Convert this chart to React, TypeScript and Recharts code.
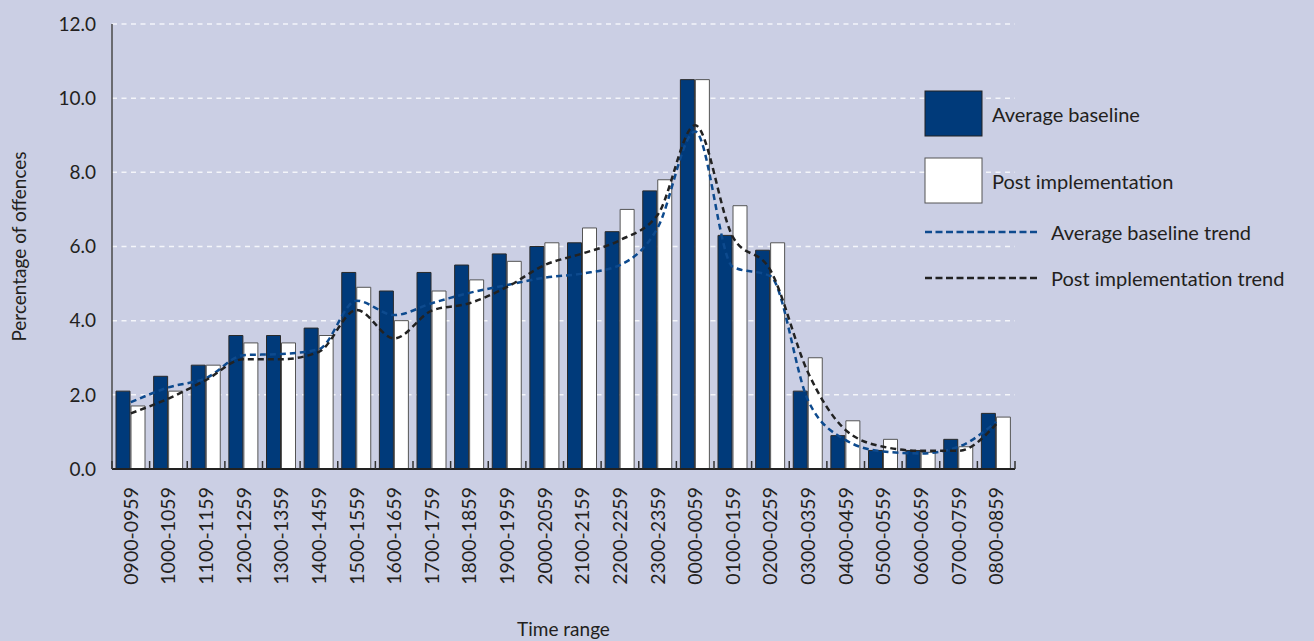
import { ComposedChart, Bar, Line, XAxis, YAxis, CartesianGrid } from 'recharts';

const timeRanges = [
  '0900-0959', '1000-1059', '1100-1159', '1200-1259', '1300-1359', '1400-1459',
  '1500-1559', '1600-1659', '1700-1759', '1800-1859', '1900-1959', '2000-2059',
  '2100-2159', '2200-2259', '2300-2359', '0000-0059', '0100-0159', '0200-0259',
  '0300-0359', '0400-0459', '0500-0559', '0600-0659', '0700-0759', '0800-0859',
];
const averageBaseline = [2.1, 2.5, 2.8, 3.6, 3.6, 3.8, 5.3, 4.8, 5.3, 5.5, 5.8, 6.0, 6.1, 6.4, 7.5, 10.5, 6.3, 5.9, 2.1, 0.9, 0.5, 0.5, 0.8, 1.5];
const postImplementation = [1.7, 2.1, 2.8, 3.4, 3.4, 3.6, 4.9, 4.0, 4.8, 5.1, 5.6, 6.1, 6.5, 7.0, 7.8, 10.5, 7.1, 6.1, 3.0, 1.3, 0.8, 0.45, 0.6, 1.4];
const baselineTrend = [1.8, 2.2, 2.45, 3.07, 3.1, 3.23, 4.54, 4.15, 4.47, 4.75, 4.96, 5.16, 5.27, 5.5, 6.5, 9.1, 5.45, 5.2, 1.85, 0.78, 0.47, 0.42, 0.6, 1.27];
const postTrend = [1.5, 1.9, 2.4, 2.96, 2.96, 3.16, 4.29, 3.52, 4.27, 4.47, 4.91, 5.5, 5.81, 6.17, 6.85, 9.27, 6.26, 5.36, 2.6, 1.05, 0.6, 0.49, 0.49, 1.21];
const yTicks = [0, 2, 4, 6, 8, 10, 12];

const data = timeRanges.map((range, i) => ({
  range,
  baseline: averageBaseline[i],
  post: postImplementation[i],
  baselineTrend: baselineTrend[i],
  postTrend: postTrend[i],
}));

const FONT = 'Lato, "Open Sans", sans-serif';
const TEXT = '#231f20';
const NAVY = '#003a7a';
const TREND_BLUE = '#0d4a8e';
const BG = '#cbcfe4';

const WIDTH = 1314;
const HEIGHT = 641;
const MARGIN = { top: 24, right: 299, left: 0, bottom: 0 };
const Y_AXIS_W = 112;
const X_AXIS_H = 172;
const catWidth = (WIDTH - MARGIN.left - MARGIN.right - Y_AXIS_W) / timeRanges.length;

const TimeTick = (props: any) => {
  const { x, y, payload, index } = props;
  const half = catWidth / 2;
  return (
    <g>
      <line x1={x - half} x2={x - half} y1={y - 8} y2={y} stroke="#333" strokeWidth={1.5} />
      {index === timeRanges.length - 1 && (
        <line x1={x + half} x2={x + half} y1={y - 8} y2={y} stroke="#333" strokeWidth={1.5} />
      )}
      <text
        x={x}
        y={y + 18}
        transform={`rotate(-90, ${x}, ${y + 18})`}
        textAnchor="end"
        dy="0.36em"
        fill={TEXT}
        fontSize={19.5}
        fontFamily={FONT}
      >
        {payload.value}
      </text>
    </g>
  );
};

const ChartLegend = () => (
  <svg width={394} height={215} style={{ position: 'absolute', left: 920, top: 85 }}>
    <rect x={5} y={6} width={57} height={45} fill={NAVY} stroke="#222" strokeWidth={1} />
    <text x={72} y={29} dominantBaseline="central" fontSize={20} fontFamily={FONT} fill={TEXT}>Average baseline</text>
    <rect x={5} y={73} width={57} height={45} fill="#ffffff" stroke="#555" strokeWidth={1} />
    <text x={72} y={96} dominantBaseline="central" fontSize={20} fontFamily={FONT} fill={TEXT}>Post implementation</text>
    <line x1={5} x2={119} y1={147} y2={147} stroke={TREND_BLUE} strokeWidth={2.5} strokeDasharray="7 3.5" />
    <text x={131} y={147} dominantBaseline="central" fontSize={20} fontFamily={FONT} fill={TEXT}>Average baseline trend</text>
    <line x1={5} x2={119} y1={193} y2={193} stroke="#222" strokeWidth={2.5} strokeDasharray="7 3.5" />
    <text x={131} y={193} dominantBaseline="central" fontSize={20} fontFamily={FONT} fill={TEXT}>Post implementation trend</text>
  </svg>
);

export default function App() {
  return (
    <div style={{ position: 'absolute', left: 0, top: 0, width: WIDTH, height: HEIGHT, background: BG }}>
      <ComposedChart width={WIDTH} height={HEIGHT} data={data} margin={MARGIN} barSize={14} barGap={1}>
        <CartesianGrid vertical={false} stroke="#f4f5fa" strokeWidth={1.5} strokeDasharray="5 4.5" />
        <XAxis
          dataKey="range"
          height={X_AXIS_H}
          interval={0}
          tickSize={0}
          tickMargin={0}
          tickLine={false}
          axisLine={{ stroke: '#222', strokeWidth: 2 }}
          tick={<TimeTick />}
          label={{ value: 'Time range', position: 'insideBottom', offset: 5, fill: TEXT, fontSize: 19, fontFamily: FONT }}
        />
        <YAxis
          width={Y_AXIS_W}
          domain={[0, 12]}
          ticks={yTicks}
          interval={0}
          tickSize={0}
          tickMargin={16}
          tickLine={false}
          axisLine={{ stroke: '#4a4a4a', strokeWidth: 1.5 }}
          tickFormatter={(v) => Number(v).toFixed(1)}
          tick={{ fill: TEXT, fontSize: 19, fontFamily: FONT }}
          label={{
            value: 'Percentage of offences',
            angle: -90,
            position: 'insideLeft',
            offset: 19,
            style: { fill: TEXT, fontSize: 19, fontFamily: FONT, textAnchor: 'middle' },
          }}
        />
        <Bar dataKey="baseline" name="Average baseline" fill={NAVY} stroke="#2a2a2a" strokeWidth={1} isAnimationActive={false} />
        <Bar dataKey="post" name="Post implementation" fill="#ffffff" stroke="#555" strokeWidth={1} isAnimationActive={false} />
        <Line
          type="monotone"
          dataKey="baselineTrend"
          name="Average baseline trend"
          stroke={TREND_BLUE}
          strokeWidth={2.5}
          strokeDasharray="6 4"
          dot={false}
          isAnimationActive={false}
        />
        <Line
          type="monotone"
          dataKey="postTrend"
          name="Post implementation trend"
          stroke="#222"
          strokeWidth={2.5}
          strokeDasharray="6 4"
          dot={false}
          isAnimationActive={false}
        />
      </ComposedChart>
      <ChartLegend />
    </div>
  );
}
